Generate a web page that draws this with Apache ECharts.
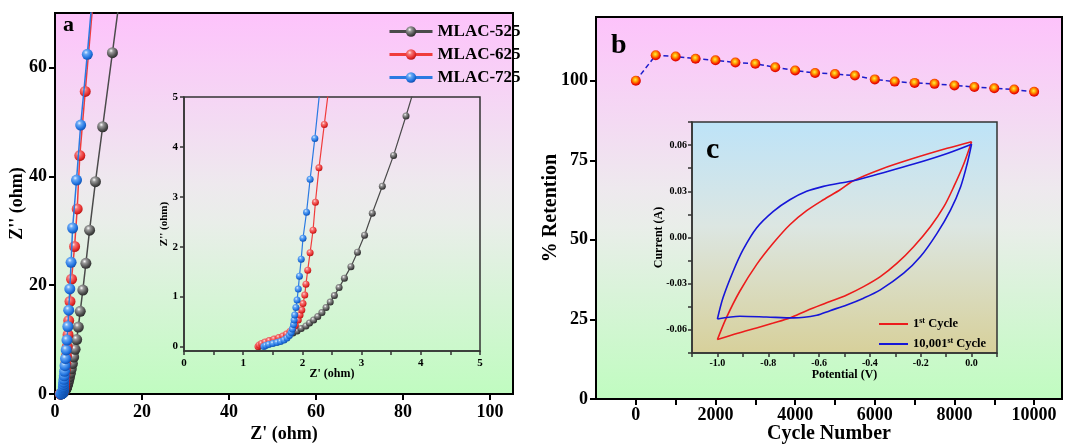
<!DOCTYPE html>
<html>
<head>
<meta charset="utf-8">
<script src="https://cdn.jsdelivr.net/npm/echarts@6/dist/echarts.min.js"></script>
<style>
  html, body { margin: 0; padding: 0; background: #ffffff; }
  #chart { width: 1066px; height: 444px; }
</style>
</head>
<body>
<div id="chart"></div>
<script>
// ---- (a) Nyquist plots: Z' (ohm) vs Z'' (ohm) ----
const mlac525Re = [1.26, 1.30, 1.36, 1.44, 1.52, 1.60, 1.68, 1.76, 1.84, 1.91, 1.98, 2.06, 2.12, 2.19, 2.26, 2.33, 2.40, 2.47, 2.54, 2.62, 2.71, 2.82, 2.93, 3.05, 3.18, 3.35, 3.54, 3.75, 4.00, 4.30, 4.62, 4.98, 5.36, 5.80, 6.40, 7.10, 7.95, 9.30, 10.96, 13.20, 15.80];
const mlac525Im = [0.00, 0.04, 0.08, 0.11, 0.14, 0.17, 0.20, 0.23, 0.27, 0.31, 0.36, 0.41, 0.47, 0.53, 0.60, 0.68, 0.78, 0.89, 1.02, 1.18, 1.37, 1.60, 1.89, 2.23, 2.67, 3.21, 3.83, 4.62, 5.60, 6.80, 8.20, 10.0, 12.3, 15.2, 19.1, 24.0, 30.1, 39.0, 49.1, 62.7, 78.5];

const mlac625Re = [1.25, 1.27, 1.31, 1.37, 1.44, 1.52, 1.60, 1.67, 1.73, 1.79, 1.84, 1.88, 1.93, 1.96, 1.99, 2.01, 2.04, 2.06, 2.09, 2.13, 2.18, 2.22, 2.28, 2.37, 2.49, 2.63, 2.82, 3.00, 3.15, 3.45, 3.80, 4.50, 5.10, 5.70, 6.95, 8.60];
const mlac625Im = [0.00, 0.03, 0.06, 0.09, 0.12, 0.15, 0.18, 0.21, 0.25, 0.30, 0.36, 0.42, 0.53, 0.63, 0.73, 0.86, 1.03, 1.25, 1.53, 1.88, 2.33, 2.89, 3.58, 4.45, 5.60, 7.00, 8.70, 10.9, 13.5, 17.0, 21.1, 27.1, 34.0, 43.8, 55.6, 70.8];

const mlac725Re = [1.35, 1.38, 1.43, 1.50, 1.57, 1.63, 1.69, 1.74, 1.78, 1.81, 1.83, 1.85, 1.86, 1.87, 1.89, 1.91, 1.93, 1.95, 1.98, 2.01, 2.07, 2.13, 2.21, 2.30, 2.42, 2.58, 2.75, 2.95, 3.15, 3.40, 3.70, 4.05, 4.95, 5.90, 7.43, 9.20];
const mlac725Im = [0.00, 0.02, 0.04, 0.06, 0.08, 0.10, 0.13, 0.17, 0.22, 0.28, 0.35, 0.44, 0.53, 0.63, 0.78, 0.93, 1.15, 1.41, 1.75, 2.17, 2.69, 3.35, 4.17, 5.20, 6.50, 8.10, 9.90, 12.4, 15.4, 19.3, 24.2, 30.5, 39.3, 49.4, 62.4, 78.6];

const sampleNames = ['MLAC-525', 'MLAC-625', 'MLAC-725'];

// ---- (b) capacitance retention vs cycle number ----
const cycleNumbers = [0, 500, 1000, 1500, 2000, 2500, 3000, 3500, 4000, 4500, 5000, 5500, 6000, 6500, 7000, 7500, 8000, 8500, 9000, 9500, 10000];
const retention = [100.0, 108.0, 107.6, 106.9, 106.4, 105.7, 105.3, 104.2, 103.2, 102.4, 102.1, 101.6, 100.4, 99.7, 99.3, 99.0, 98.5, 98.0, 97.6, 97.2, 96.5];

// ---- (c) CV loops, potential (V) / current (A) ----
// 1st cycle: anodic sweep (-1 -> 0) and cathodic sweep (0 -> -1)
const cv1AnodicV = [-1.000, -0.965, -0.912, -0.846, -0.780, -0.715, -0.649, -0.583, -0.517, -0.465, -0.359, -0.228, -0.096, 0.000];
const cv1AnodicI = [-0.0663, -0.0522, -0.0349, -0.0176, -0.0036, 0.0083, 0.0174, 0.0245, 0.0310, 0.0368, 0.0442, 0.0514, 0.0579, 0.0622];
const cv1CathodicV = [0.000, -0.030, -0.070, -0.109, -0.162, -0.228, -0.293, -0.359, -0.425, -0.491, -0.557, -0.649, -0.715, -0.780, -0.846, -0.920, -1.000];
const cv1CathodicI = [0.0622, 0.0481, 0.0330, 0.0200, 0.0070, -0.0060, -0.0167, -0.0254, -0.0319, -0.0373, -0.0416, -0.0475, -0.0522, -0.0555, -0.0587, -0.0622, -0.0663];
// 10,001st cycle
const cv2AnodicV = [-1.000, -0.978, -0.938, -0.899, -0.846, -0.780, -0.715, -0.649, -0.583, -0.517, -0.465, -0.359, -0.228, -0.096, 0.000];
const cv2AnodicI = [-0.0529, -0.0392, -0.0219, -0.0079, 0.0062, 0.0170, 0.0245, 0.0300, 0.0332, 0.0354, 0.0368, 0.0416, 0.0477, 0.0546, 0.0606];
const cv2CathodicV = [0.000, -0.017, -0.043, -0.083, -0.136, -0.201, -0.267, -0.359, -0.425, -0.491, -0.557, -0.609, -0.701, -0.807, -0.912, -1.000];
const cv2CathodicI = [0.0606, 0.0481, 0.0330, 0.0178, 0.0027, -0.0124, -0.0232, -0.0340, -0.0394, -0.0438, -0.0475, -0.0505, -0.0522, -0.0516, -0.0511, -0.0529];

const cycleNames = ['1st Cycle', '10,001st Cycle'];

// ---- tick positions ----
const zReTicks = [0, 20, 40, 60, 80, 100];
const zImTicks = [0, 20, 40, 60];
const insetTicks = [0, 1, 2, 3, 4, 5];
const insetMinorTicks = [0, 0.5, 1, 1.5, 2, 2.5, 3, 3.5, 4, 4.5, 5];
const cycleLabels = [0, 2000, 4000, 6000, 8000, 10000];
const cycleTicks = [0, 1000, 2000, 3000, 4000, 5000, 6000, 7000, 8000, 9000, 10000];
const retentionTicks = [0, 25, 50, 75, 100];
const potentialLabels = [-1.0, -0.8, -0.6, -0.4, -0.2, 0.0];
const potentialTicks = [-1.1, -1.0, -0.9, -0.8, -0.7, -0.6, -0.5, -0.4, -0.3, -0.2, -0.1, 0.0, 0.1];
const currentLabels = [-0.06, -0.03, 0.00, 0.03, 0.06];
const currentTicks = [-0.075, -0.06, -0.045, -0.03, -0.015, 0, 0.015, 0.03, 0.045, 0.06, 0.075];

const zip = (xs, ys) => xs.map((x, i) => [x, ys[i]]);

const FONT = "'Liberation Serif', 'Times New Roman', serif";

function sphere(c0, c1, c2, c3) {
  return {
    type: 'radial', x: 0.38, y: 0.32, r: 0.72,
    colorStops: [
      { offset: 0, color: c0 }, { offset: 0.25, color: c1 },
      { offset: 0.7, color: c2 }, { offset: 1, color: c3 }
    ]
  };
}
const sampleFill = [
  sphere('#ffffff', '#9a9a9a', '#4e4e4e', '#262626'),
  sphere('#ffe0e0', '#f57a7a', '#e83030', '#b01010'),
  sphere('#e6f2ff', '#6aaaf5', '#2274e0', '#0c4aa8')
];
const sampleLine = ['#4a4a4a', '#f03c3c', '#2a7ae2'];
const sampleData = [
  zip(mlac525Re, mlac525Im),
  zip(mlac625Re, mlac625Im),
  zip(mlac725Re, mlac725Im)
];

function panelGradient() {
  return {
    type: 'linear', x: 0, y: 0, x2: 0, y2: 1,
    colorStops: [
      { offset: 0, color: '#fdc2fb' },
      { offset: 0.45, color: '#eee9ee' },
      { offset: 0.55, color: '#e9eee9' },
      { offset: 1, color: '#c0fcc0' }
    ]
  };
}

function valueAxis(o) {
  return {
    type: 'value',
    gridIndex: o.grid,
    min: o.min, max: o.max,
    name: o.name,
    nameLocation: 'middle',
    nameGap: o.nameGap,
    nameMoveOverlap: false,
    nameTextStyle: { fontFamily: FONT, fontWeight: 'bold', fontSize: o.nameSize, color: '#000' },
    axisLine: { show: true, onZero: false, lineStyle: { color: o.lineColor || '#000', width: o.lineWidth } },
    axisTick: { show: true, inside: false, length: o.tickLen, customValues: o.ticks, lineStyle: { color: o.lineColor || '#000', width: o.lineWidth } },
    axisLabel: {
      show: true, customValues: o.labels, margin: o.margin,
      fontFamily: FONT, fontWeight: 'bold', fontSize: o.labelSize, color: '#000',
      formatter: o.formatter || (v => String(v))
    },
    splitLine: { show: false }
  };
}

const insetBorder = '#333333';

const option = {
  animation: false,
  backgroundColor: '#ffffff',
  grid: [
    { left: 55, top: 13, width: 458, height: 381, outerBoundsMode: 'none', containLabel: false, show: true, backgroundColor: panelGradient(), borderColor: '#000', borderWidth: 2 },
    { left: 184, top: 97, width: 296, height: 254, outerBoundsMode: 'none', containLabel: false, show: true, backgroundColor: 'transparent', borderColor: insetBorder, borderWidth: 1.5 },
    { left: 596, top: 17, width: 466, height: 382, outerBoundsMode: 'none', containLabel: false, show: true, backgroundColor: panelGradient(), borderColor: '#000', borderWidth: 2 },
    {
      left: 692, top: 122, width: 305, height: 231, outerBoundsMode: 'none', containLabel: false, show: true,
      backgroundColor: {
        type: 'linear', x: 0, y: 0, x2: 0, y2: 1,
        colorStops: [
          { offset: 0, color: '#bde3f8' },
          { offset: 0.45, color: '#dce6e2' },
          { offset: 1, color: '#d7d09a' }
        ]
      },
      borderColor: insetBorder, borderWidth: 1.5
    }
  ],
  xAxis: [
    valueAxis({ grid: 0, min: 0, max: 105.3, name: "Z' (ohm)", nameGap: 31, nameSize: 18, lineWidth: 2, tickLen: 6, ticks: zReTicks, labels: zReTicks, margin: 9, labelSize: 18 }),
    valueAxis({ grid: 1, min: 0, max: 5, name: "Z' (ohm)", nameGap: 17, nameSize: 12, lineWidth: 1.5, lineColor: insetBorder, tickLen: 4, ticks: insetMinorTicks, labels: insetTicks, margin: 7, labelSize: 11 }),
    valueAxis({ grid: 2, min: -1000, max: 10700, name: 'Cycle Number', nameGap: 25, nameSize: 20, lineWidth: 2, tickLen: 6, ticks: cycleTicks, labels: cycleLabels, margin: 7, labelSize: 18 }),
    valueAxis({ grid: 3, min: -1.1, max: 0.1, name: 'Potential (V)', nameGap: 16, nameSize: 12, lineWidth: 1.5, lineColor: insetBorder, tickLen: 4, ticks: potentialTicks, labels: potentialLabels, margin: 5, labelSize: 10, formatter: v => v.toFixed(1) })
  ],
  yAxis: [
    valueAxis({ grid: 0, min: 0, max: 70, name: "Z'' (ohm)", nameGap: 29, nameSize: 18, lineWidth: 2, tickLen: 6, ticks: zImTicks, labels: zImTicks, margin: 8, labelSize: 18 }),
    valueAxis({ grid: 1, min: -0.09, max: 5, name: "Z'' (ohm)", nameGap: 14, nameSize: 11, lineWidth: 1.5, lineColor: insetBorder, tickLen: 4, ticks: insetTicks, labels: insetTicks, margin: 6, labelSize: 11 }),
    valueAxis({ grid: 2, min: 0, max: 120, name: '% Retention', nameGap: 35, nameSize: 20, lineWidth: 2, tickLen: 6, ticks: retentionTicks, labels: retentionTicks, margin: 8, labelSize: 18 }),
    valueAxis({ grid: 3, min: -0.075, max: 0.075, name: 'Current (A)', nameGap: 27, nameSize: 12, lineWidth: 1.5, lineColor: insetBorder, tickLen: 4, ticks: currentTicks, labels: currentLabels, margin: 5, labelSize: 10, formatter: v => v.toFixed(2) })
  ],
  legend: [
    {
      data: sampleNames,
      orient: 'vertical', left: 383, top: 18,
      itemWidth: 43, itemHeight: 13, itemGap: 6,
      lineStyle: { width: 3 },
      textStyle: { fontFamily: FONT, fontWeight: 'bold', fontSize: 17, color: '#000', lineHeight: 17 }
    },
    {
      data: cycleNames.map((name, i) => ({ name, icon: 'rect', itemStyle: { color: ['#ec1c1c', '#1616d8'][i] } })),
      orient: 'vertical', left: 874, top: 312,
      itemWidth: 29, itemHeight: 2, itemGap: 6,
      formatter: name => name === '1st Cycle' ? '1{sup|st} Cycle' : '10,001{sup|st} Cycle',
      textStyle: {
        fontFamily: FONT, fontWeight: 'bold', fontSize: 12.5, color: '#000', lineHeight: 14,
        rich: { sup: { fontFamily: FONT, fontWeight: 'bold', fontSize: 8, color: '#000', verticalAlign: 'top', lineHeight: 8 } }
      }
    }
  ],
  graphic: [
    { type: 'text', left: 63, top: 14, z: 100, style: { text: 'a', fontFamily: FONT, fontWeight: 'bold', fontSize: 22, fill: '#000' } },
    { type: 'text', left: 611, top: 32, z: 100, style: { text: 'b', fontFamily: FONT, fontWeight: 'bold', fontSize: 28, fill: '#000' } },
    { type: 'text', left: 706, top: 135, z: 100, style: { text: 'c', fontFamily: FONT, fontWeight: 'bold', fontSize: 30, fill: '#000' } }
  ],
  series: []
};

// Nyquist curves: main panel and magnified inset
sampleNames.forEach((name, i) => {
  option.series.push({
    name, type: 'line', xAxisIndex: 0, yAxisIndex: 0,
    data: sampleData[i], clip: true,
    symbol: 'circle', symbolSize: 11,
    lineStyle: { color: sampleLine[i], width: 1.5 },
    itemStyle: { color: sampleFill[i] },
    z: 2 + i
  });
});
sampleNames.forEach((name, i) => {
  option.series.push({
    name, type: 'line', xAxisIndex: 1, yAxisIndex: 1,
    data: sampleData[i], clip: true,
    symbol: 'circle', symbolSize: 7,
    lineStyle: { color: sampleLine[i], width: 1.2 },
    itemStyle: { color: sampleFill[i] },
    z: 2 + i
  });
});

// Retention
option.series.push({
  name: 'Retention', type: 'line', xAxisIndex: 2, yAxisIndex: 2,
  data: zip(cycleNumbers, retention),
  symbol: 'circle', symbolSize: 10,
  lineStyle: { color: '#1c1ccc', width: 1.5, type: [5, 3] },
  itemStyle: {
    color: {
      type: 'radial', x: 0.45, y: 0.4, r: 0.65,
      colorStops: [
        { offset: 0, color: '#ffee40' }, { offset: 0.35, color: '#ff9a00' },
        { offset: 0.75, color: '#f01000' }, { offset: 1, color: '#c00000' }
      ]
    }
  }
});

// CV loops
const cvColors = ['#ec1c1c', '#1616d8'];
const cvBranches = [
  [zip(cv1AnodicV, cv1AnodicI), zip(cv1CathodicV, cv1CathodicI)],
  [zip(cv2AnodicV, cv2AnodicI), zip(cv2CathodicV, cv2CathodicI)]
];
cycleNames.forEach((name, i) => {
  cvBranches[i].forEach(branch => {
    option.series.push({
      name, type: 'line', xAxisIndex: 3, yAxisIndex: 3,
      data: branch, smooth: 0.3, symbol: 'none',
      lineStyle: { color: cvColors[i], width: 1.6 },
      itemStyle: { color: cvColors[i] },
      z: 3
    });
  });
});

const chart = echarts.init(document.getElementById('chart'), null, { renderer: 'canvas' });
chart.setOption(option);
</script>
</body>
</html>
